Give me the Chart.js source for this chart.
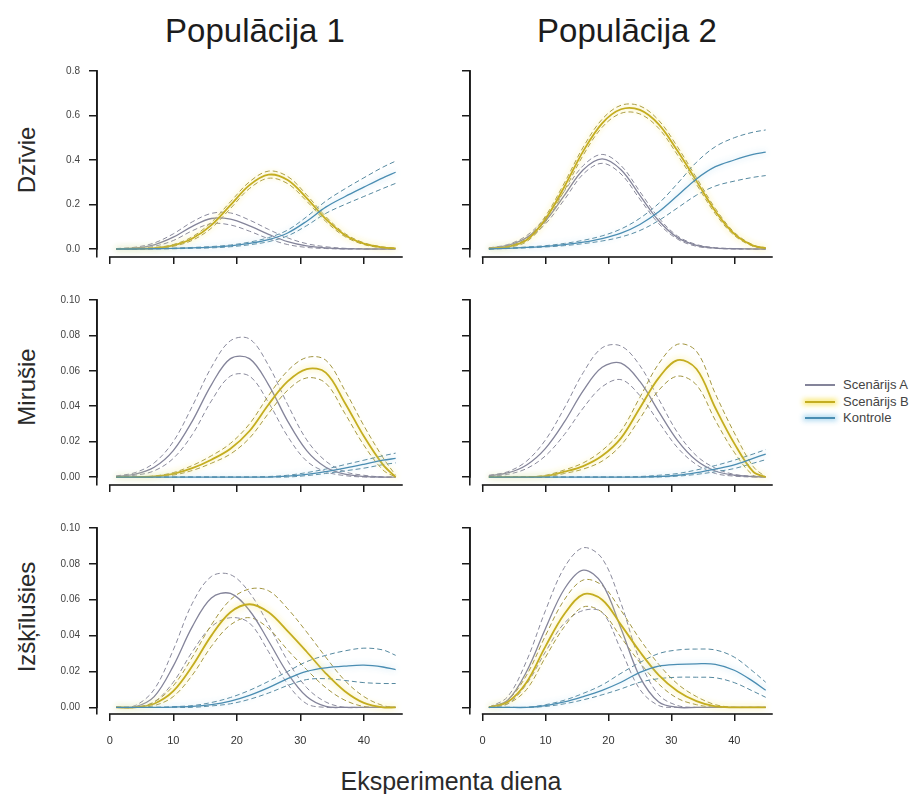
<!DOCTYPE html>
<html><head><meta charset="utf-8">
<script src="https://cdn.jsdelivr.net/npm/chart.js@4.4.1/dist/chart.umd.min.js"></script>
<style>
html,body{margin:0;padding:0;background:#fff;width:922px;height:794px;overflow:hidden;font-family:'Liberation Sans',Arial,Helvetica,sans-serif;}
canvas{position:absolute;}
.t{position:absolute;white-space:nowrap;line-height:1;color:#222;}
</style></head><body>
<script>
// ---------- data ----------
const days = [1,4,7,10,13,16,19,22,25,28,31,34,37,40,43,45];
const xTickValues = [0,10,20,30,40];
const yTicksDzivie = [0,0.2,0.4,0.6,0.8];
const yTicksSmall = [0,0.02,0.04,0.06,0.08,0.10];
const seriesNames = ['Scenārijs A','Scenārijs B','Kontrole'];
const rowLabels = ['Dzīvie','Mirušie','Izšķīlušies'];
const colLabels = ['Populācija 1','Populācija 2'];
const xAxisTitle = 'Eksperimenta diena';

// Populācija 1 – Dzīvie
const p1Dz_A    = [0.001,0.005,0.019,0.053,0.102,0.137,0.134,0.104,0.066,0.033,0.014,0.005,0.001,0,0,0];
const p1Dz_A_hi = [0.002,0.008,0.027,0.068,0.122,0.16,0.162,0.13,0.088,0.05,0.024,0.01,0.003,0.001,0,0];
const p1Dz_A_lo = [0,0.003,0.012,0.038,0.082,0.114,0.108,0.08,0.046,0.02,0.007,0.002,0,0,0,0];
const p1Dz_B    = [0,0.001,0.004,0.016,0.047,0.107,0.197,0.287,0.334,0.31,0.229,0.135,0.063,0.024,0.007,0.003];
const p1Dz_B_hi = [0,0.002,0.006,0.02,0.055,0.12,0.212,0.302,0.35,0.326,0.243,0.146,0.07,0.028,0.009,0.004];
const p1Dz_B_lo = [0,0,0.002,0.012,0.039,0.094,0.182,0.272,0.318,0.294,0.215,0.124,0.056,0.02,0.005,0.002];
const p1Dz_K    = [0,0,0.001,0.0025,0.005,0.008,0.014,0.025,0.042,0.072,0.125,0.188,0.235,0.278,0.32,0.345];
const p1Dz_K_hi = [0,0.001,0.002,0.004,0.007,0.011,0.018,0.031,0.051,0.085,0.145,0.215,0.27,0.32,0.368,0.395];
const p1Dz_K_lo = [0,0,0,0.001,0.003,0.005,0.01,0.019,0.033,0.059,0.105,0.16,0.2,0.236,0.272,0.295];

// Populācija 2 – Dzīvie
const p2Dz_A    = [0.004,0.016,0.051,0.127,0.241,0.356,0.405,0.356,0.241,0.127,0.051,0.016,0.004,0.001,0,0];
const p2Dz_A_hi = [0.005,0.02,0.06,0.142,0.26,0.375,0.425,0.375,0.258,0.14,0.058,0.02,0.006,0.002,0,0];
const p2Dz_A_lo = [0.003,0.012,0.043,0.113,0.222,0.337,0.385,0.337,0.224,0.114,0.044,0.012,0.003,0,0,0];
const p2Dz_B    = [0.002,0.01,0.04,0.135,0.28,0.44,0.565,0.628,0.625,0.56,0.44,0.305,0.17,0.068,0.015,0.004];
const p2Dz_B_hi = [0.003,0.013,0.047,0.148,0.297,0.458,0.583,0.646,0.643,0.578,0.458,0.32,0.182,0.075,0.018,0.005];
const p2Dz_B_lo = [0.001,0.007,0.033,0.122,0.263,0.422,0.547,0.61,0.607,0.542,0.422,0.29,0.158,0.061,0.012,0.003];
const p2Dz_K    = [0,0.003,0.007,0.012,0.02,0.031,0.047,0.071,0.11,0.167,0.24,0.315,0.37,0.4,0.425,0.435];
const p2Dz_K_hi = [0,0.004,0.009,0.015,0.025,0.039,0.059,0.09,0.138,0.205,0.295,0.39,0.46,0.5,0.525,0.535];
const p2Dz_K_lo = [0,0.002,0.005,0.009,0.015,0.024,0.036,0.054,0.083,0.128,0.185,0.242,0.283,0.305,0.322,0.33];

// Populācija 1 – Mirušie
const p1Mi_A    = [0.0004,0.0016,0.0055,0.0149,0.0316,0.0521,0.0669,0.0669,0.0521,0.0316,0.0149,0.0055,0.0016,0.0004,0,0];
const p1Mi_A_hi = [0.0006,0.0025,0.008,0.02,0.04,0.062,0.077,0.078,0.063,0.041,0.021,0.009,0.003,0.001,0,0];
const p1Mi_A_lo = [0.0002,0.001,0.0035,0.0105,0.024,0.043,0.057,0.057,0.042,0.023,0.009,0.003,0.0008,0,0,0];
const p1Mi_B    = [0,0,0.0003,0.0018,0.005,0.0098,0.016,0.026,0.041,0.054,0.061,0.059,0.042,0.023,0.007,0];
const p1Mi_B_hi = [0,0,0.0006,0.0025,0.0065,0.012,0.019,0.03,0.046,0.06,0.0675,0.066,0.049,0.029,0.011,0.001];
const p1Mi_B_lo = [0,0,0.0001,0.0011,0.0037,0.0078,0.013,0.022,0.036,0.049,0.056,0.053,0.036,0.018,0.004,0];
const p1Mi_K    = [0,0,0,0,0,0,0,0,0,0.0005,0.0015,0.003,0.005,0.0072,0.0095,0.0105];
const p1Mi_K_hi = [0,0,0,0,0,0,0,0,0.0003,0.001,0.0025,0.0045,0.007,0.0095,0.012,0.0135];
const p1Mi_K_lo = [0,0,0,0,0,0,0,0,0,0,0.0008,0.002,0.0035,0.005,0.007,0.008];

// Populācija 2 – Mirušie
const p2Mi_A    = [0.0007,0.0023,0.0068,0.0162,0.0311,0.0488,0.062,0.0643,0.054,0.037,0.0206,0.0093,0.0034,0.001,0.0003,0.0001];
const p2Mi_A_hi = [0.001,0.003,0.009,0.021,0.039,0.059,0.073,0.074,0.063,0.044,0.025,0.012,0.005,0.0015,0.0005,0.0002];
const p2Mi_A_lo = [0.0004,0.0015,0.0048,0.012,0.024,0.039,0.051,0.055,0.046,0.031,0.0165,0.007,0.002,0.0005,0,0];
const p2Mi_B    = [0,0,0,0.0005,0.003,0.0062,0.012,0.022,0.039,0.056,0.066,0.061,0.039,0.019,0.003,0];
const p2Mi_B_hi = [0,0,0,0.001,0.004,0.008,0.015,0.026,0.045,0.064,0.075,0.071,0.047,0.025,0.006,0];
const p2Mi_B_lo = [0,0,0,0,0.002,0.0045,0.009,0.018,0.033,0.049,0.057,0.052,0.032,0.014,0.001,0];
const p2Mi_K    = [0,0,0,0,0,0,0,0,0,0.0003,0.001,0.0025,0.0045,0.0068,0.0105,0.013];
const p2Mi_K_hi = [0,0,0,0,0,0,0,0,0.0003,0.001,0.002,0.004,0.0065,0.0095,0.013,0.0155];
const p2Mi_K_lo = [0,0,0,0,0,0,0,0,0,0,0.0005,0.0015,0.003,0.0048,0.0078,0.0098];

// Populācija 1 – Izšķīlušies
const p1Iz_A    = [0,0.0003,0.006,0.023,0.045,0.061,0.0635,0.054,0.037,0.019,0.006,0.0005,0,0,0,0];
const p1Iz_A_hi = [0,0.001,0.01,0.032,0.058,0.073,0.074,0.064,0.046,0.026,0.011,0.003,0,0,0,0];
const p1Iz_A_lo = [0,0,0.003,0.014,0.031,0.045,0.05,0.047,0.031,0.013,0.002,0,0,0,0,0];
const p1Iz_B    = [0,0,0.002,0.009,0.023,0.04,0.053,0.0575,0.053,0.0425,0.031,0.019,0.009,0.0025,0,0];
const p1Iz_B_hi = [0,0,0.003,0.012,0.028,0.046,0.06,0.066,0.065,0.055,0.042,0.028,0.015,0.006,0.001,0];
const p1Iz_B_lo = [0,0,0.001,0.006,0.018,0.034,0.046,0.05,0.044,0.032,0.021,0.011,0.004,0.0005,0,0];
const p1Iz_K    = [0,0,0,0.0002,0.0005,0.0015,0.0035,0.0067,0.011,0.016,0.02,0.022,0.023,0.0235,0.0225,0.021];
const p1Iz_K_hi = [0,0,0,0.0004,0.001,0.0027,0.0055,0.0095,0.0145,0.02,0.0255,0.029,0.0315,0.033,0.032,0.029];
const p1Iz_K_lo = [0,0,0,0,0,0.0008,0.002,0.0045,0.008,0.0122,0.0155,0.016,0.015,0.0138,0.0133,0.0133];

// Populācija 2 – Izšķīlušies
const p2Iz_A    = [0,0.004,0.02,0.044,0.066,0.0765,0.069,0.044,0.017,0.003,0,0,0,0,0,0];
const p2Iz_A_hi = [0,0.006,0.026,0.054,0.078,0.089,0.083,0.058,0.026,0.007,0.001,0,0,0,0,0];
const p2Iz_A_lo = [0,0.002,0.013,0.031,0.047,0.054,0.053,0.032,0.01,0.001,0,0,0,0,0,0];
const p2Iz_B    = [0,0.003,0.014,0.034,0.052,0.063,0.06,0.046,0.031,0.018,0.009,0.0035,0.0005,0,0,0];
const p2Iz_B_hi = [0,0.004,0.018,0.04,0.06,0.071,0.068,0.054,0.038,0.024,0.013,0.006,0.0015,0,0,0];
const p2Iz_B_lo = [0,0.002,0.01,0.028,0.045,0.056,0.053,0.039,0.025,0.013,0.005,0.0015,0,0,0,0];
const p2Iz_K    = [0,0,0,0.001,0.003,0.006,0.0095,0.014,0.0195,0.023,0.024,0.0243,0.024,0.0207,0.0145,0.0095];
const p2Iz_K_hi = [0,0,0,0.0015,0.004,0.0078,0.0125,0.019,0.025,0.03,0.032,0.0325,0.032,0.028,0.02,0.014];
const p2Iz_K_lo = [0,0,0,0.0005,0.002,0.0042,0.007,0.0103,0.014,0.016,0.0168,0.0168,0.0165,0.0138,0.009,0.0056];

const panels = [
  {row:0,col:0,A:[p1Dz_A,p1Dz_A_lo,p1Dz_A_hi],B:[p1Dz_B,p1Dz_B_lo,p1Dz_B_hi],K:[p1Dz_K,p1Dz_K_lo,p1Dz_K_hi]},
  {row:0,col:1,A:[p2Dz_A,p2Dz_A_lo,p2Dz_A_hi],B:[p2Dz_B,p2Dz_B_lo,p2Dz_B_hi],K:[p2Dz_K,p2Dz_K_lo,p2Dz_K_hi]},
  {row:1,col:0,A:[p1Mi_A,p1Mi_A_lo,p1Mi_A_hi],B:[p1Mi_B,p1Mi_B_lo,p1Mi_B_hi],K:[p1Mi_K,p1Mi_K_lo,p1Mi_K_hi]},
  {row:1,col:1,A:[p2Mi_A,p2Mi_A_lo,p2Mi_A_hi],B:[p2Mi_B,p2Mi_B_lo,p2Mi_B_hi],K:[p2Mi_K,p2Mi_K_lo,p2Mi_K_hi]},
  {row:2,col:0,A:[p1Iz_A,p1Iz_A_lo,p1Iz_A_hi],B:[p1Iz_B,p1Iz_B_lo,p1Iz_B_hi],K:[p1Iz_K,p1Iz_K_lo,p1Iz_K_hi]},
  {row:2,col:1,A:[p2Iz_A,p2Iz_A_lo,p2Iz_A_hi],B:[p2Iz_B,p2Iz_B_lo,p2Iz_B_hi],K:[p2Iz_K,p2Iz_K_lo,p2Iz_K_hi]}
];

// ---------- layout & style ----------
const FONT = "'Liberation Sans', Arial, Helvetica, sans-serif";
const colLeft = [97, 470], colRight = [402, 772];
const rowTop = [71, 300, 528], rowBottom = [257, 485, 713];
const rowYMin = [-0.036, -0.0045, -0.0037];
const rowYMax = [0.8, 0.1, 0.1];
const rowTicks = [yTicksDzivie, yTicksSmall, yTicksSmall];
const rowDec = [1, 2, 2];
const X_MIN = -2, X_MAX = 46, X_AXIS_END = 46;
const Y_W = 50, PAD_T = 10, PAD_R = 10, TOP_OFF = 15, BOT_EXTRA = 1;
const styles = {
  A: {color:'#84849a', dash:'#8a8a9c', width:1.3, glow:null},
  B: {color:'#c4ad20', dash:'#a29540', width:1.8, glow:'rgba(250,232,110,0.95)'},
  K: {color:'#4a8db2', dash:'#55889f', width:1.3, glow:'rgba(170,215,240,0.9)'}
};
const AXIS_COLOR = '#1a1a1a';

const glowPlugin = {
  id:'glow',
  beforeDatasetDraw(chart, args){
    const ds = chart.data.datasets[args.index];
    chart.ctx.save();
    if (ds.glow){ chart.ctx.shadowColor = ds.glow; chart.ctx.shadowBlur = 6; }
  },
  afterDatasetDraw(chart){ chart.ctx.restore(); }
};

function makeAxesPlugin(yTop){
  return {
    id:'rAxes',
    afterDraw(chart){
      const ctx = chart.ctx, ca = chart.chartArea;
      const xs = chart.scales.x, ys = chart.scales.y;
      ctx.save();
      ctx.fillStyle = AXIS_COLOR;
      const xa = xs.getPixelForValue(0), xb = xs.getPixelForValue(X_AXIS_END);
      ctx.fillRect(xa - 0.75, ca.bottom - 0.8, xb - xa + 1.5, 1.6);
      const y0 = ys.getPixelForValue(0), y1 = ys.getPixelForValue(yTop);
      ctx.fillRect(ca.left - 0.8, y1 - 0.75, 1.6, (y0 - y1) + 1.5);
      ctx.restore();
    }
  };
}

function pts(arr){ return days.map((d,i)=>({x:d, y:arr[i]})); }

panels.forEach((p) => {
  const hx = p.row === 2 ? 40 : 14;
  const L = colLeft[p.col], R = colRight[p.col], T = rowTop[p.row], B = rowBottom[p.row];
  const cv = document.createElement('canvas');
  const w = Y_W + (R - L) + PAD_R, h = TOP_OFF + (B - T) + hx + BOT_EXTRA;
  cv.width = w; cv.height = h;
  cv.style.left = (L - Y_W) + 'px'; cv.style.top = (T - TOP_OFF) + 'px';
  cv.style.width = w + 'px'; cv.style.height = h + 'px';
  document.body.appendChild(cv);

  const datasets = [];
  ['K','B','A'].forEach(k => {
    const st = styles[k];
    datasets.push({label: k+' mean', data: pts(p[k][0]), borderColor: st.color, borderWidth: st.width, glow: st.glow});
  });
  ['K','B','A'].forEach(k => {
    const st = styles[k];
    datasets.push({label: k+' lo', data: pts(p[k][1]), borderColor: st.dash, borderWidth: 1, borderDash:[5,3]});
    datasets.push({label: k+' hi', data: pts(p[k][2]), borderColor: st.dash, borderWidth: 1, borderDash:[5,3]});
  });

  const ticksY = rowTicks[p.row];
  new Chart(cv, {
    type:'line',
    data:{datasets},
    plugins:[glowPlugin, makeAxesPlugin(ticksY[ticksY.length-1])],
    options:{
      responsive:false, animation:false, events:[], devicePixelRatio:1,
      layout:{padding:{top:PAD_T, right:PAD_R, left:0, bottom:0}},
      plugins:{legend:{display:false}, tooltip:{enabled:false}},
      elements:{line:{tension:0.35, fill:false}, point:{radius:0}},
      scales:{
        x:{type:'linear', min:X_MIN, max:X_MAX,
           afterBuildTicks: s => { s.ticks = xTickValues.map(v => ({value:v})); },
           afterFit: s => { s.height = hx; },
           grid:{drawOnChartArea:false, drawTicks:true, tickLength:7, color:AXIS_COLOR, lineWidth:1.5},
           border:{display:false},
           ticks:{padding:13, color:'#333', font:{size:11, family:FONT}, maxRotation:0, autoSkip:false,
                  callback: v => p.row === 2 ? String(v) : ''}},
        y:{type:'linear', min:rowYMin[p.row], max:rowYMax[p.row],
           afterBuildTicks: s => { s.ticks = ticksY.map(v => ({value:v})); },
           afterFit: s => { s.width = Y_W; },
           grid:{drawOnChartArea:false, drawTicks:true, tickLength:8, color:AXIS_COLOR, lineWidth:1.5},
           border:{display:true, color:AXIS_COLOR, width:1.6},
           ticks:{padding:9, color:'#444', font:{size:10, family:FONT}, autoSkip:false,
                  callback: v => p.col === 0 ? Number(v).toFixed(rowDec[p.row]) : ''}}
      }
    }
  });
});

// ---------- text ----------
function addText(txt, css){
  const d = document.createElement('div');
  d.className = 't'; d.textContent = txt;
  Object.assign(d.style, css);
  document.body.appendChild(d);
  return d;
}
const colTitleX = [255, 627];
colLabels.forEach((t,i) => addText(t, {left:colTitleX[i]+'px', top:'14px', fontSize:'33px', transform:'translateX(-50%)', color:'#1c1c1c'}));
const rowLabelY = [160, 387, 617];
rowLabels.forEach((t,i) => addText(t, {left:'27px', top:rowLabelY[i]+'px', fontSize:'24px', transform:'translate(-50%,-50%) rotate(-90deg)', color:'#2a2a2a'}));
addText(xAxisTitle, {left:'451px', top:'769px', fontSize:'25px', transform:'translateX(-50%)', color:'#2a2a2a'});

// legend
const legY = [385, 402, 418];
['A','B','K'].forEach((k,i) => {
  const st = styles[k];
  const ln = document.createElement('div');
  const lw = k === 'A' ? 1.5 : 2.5;
  Object.assign(ln.style, {position:'absolute', left:'805px', width:'30px', top:(legY[i]-lw/2)+'px', height:lw+'px',
    background: st.color, boxShadow: st.glow ? '0 0 5px 2px '+st.glow : 'none'});
  document.body.appendChild(ln);
  addText(seriesNames[i], {left:'843px', top:(legY[i]-7)+'px', fontSize:'13px', color:'#444'});
});
</script>
</body></html>
